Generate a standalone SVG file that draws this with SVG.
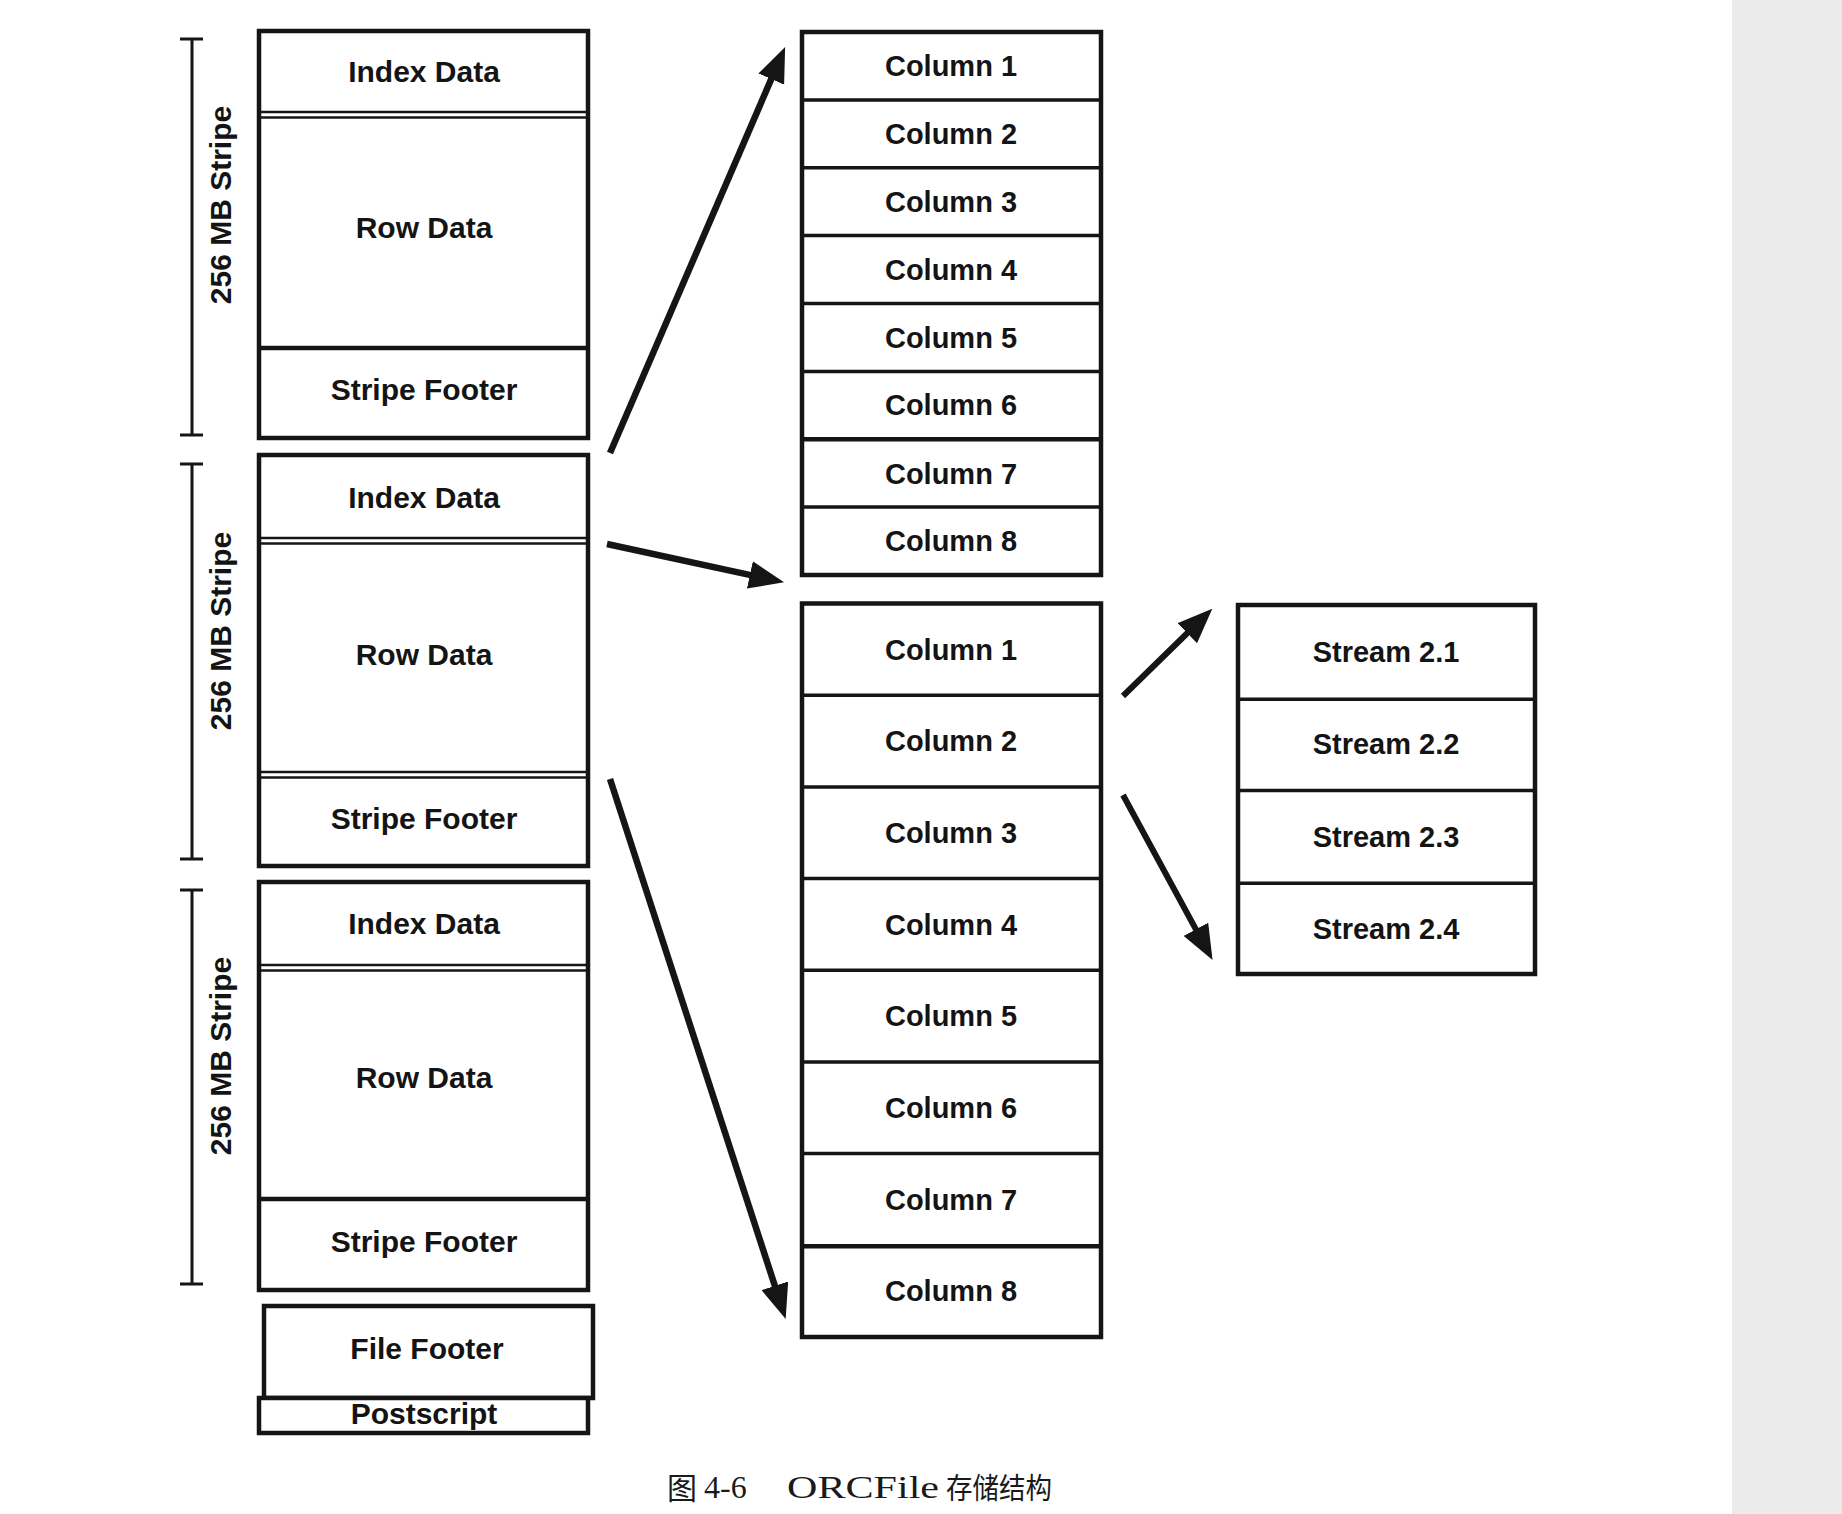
<svg xmlns="http://www.w3.org/2000/svg" width="1842" height="1514" viewBox="0 0 1842 1514">
<style>
  .box{fill:#fff;stroke:#151515;stroke-width:4.5}
  .div{stroke:#151515;stroke-width:3.5}
  .dbl{stroke:#151515;stroke-width:2.6}
  .thick{stroke:#151515;stroke-width:4.5}
  .lbl{font-family:"Liberation Sans",Arial,sans-serif;font-weight:bold;font-size:30px;fill:#141414;text-anchor:middle}
  .col{font-family:"Liberation Sans",Arial,sans-serif;font-weight:bold;font-size:29px;fill:#141414;text-anchor:middle}
  .brk{stroke:#151515;stroke-width:3;fill:none}
  .arrow{stroke:#151515;stroke-width:6.5;fill:none;marker-end:url(#ah)}
  .arrow2{stroke:#151515;stroke-width:6;fill:none;marker-end:url(#ah)}
</style>
<defs>
  <marker id="ah" markerUnits="userSpaceOnUse" markerWidth="36" markerHeight="28" refX="16" refY="14" orient="auto">
    <path d="M0,0 L35,14 L0,28 z" fill="#151515"/>
  </marker>
</defs>
<rect x="0" y="0" width="1842" height="1514" fill="#ffffff"/>
<rect x="1732" y="0" width="110" height="1514" fill="#ebebeb"/>

<!-- Stripe 1 -->
<g id="stripe1">
  <rect class="box" x="259" y="31" width="329" height="407"/>
  <line class="dbl" x1="259" y1="112" x2="588" y2="112"/>
  <line class="dbl" x1="259" y1="117.5" x2="588" y2="117.5"/>
  <line class="thick" x1="259" y1="348" x2="588" y2="348"/>
  <text class="lbl" x="424" y="82">Index Data</text>
  <text class="lbl" x="424" y="238">Row Data</text>
  <text class="lbl" x="424" y="400">Stripe Footer</text>
  <path class="brk" d="M180,39 H203 M192,39 V435 M180,435 H203"/>
  <text class="lbl" transform="translate(231,205) rotate(-90)">256 MB Stripe</text>
</g>

<!-- Stripe 2 -->
<g id="stripe2">
  <rect class="box" x="259" y="455" width="329" height="411"/>
  <line class="dbl" x1="259" y1="538" x2="588" y2="538"/>
  <line class="dbl" x1="259" y1="543.5" x2="588" y2="543.5"/>
  <line class="dbl" x1="259" y1="772" x2="588" y2="772"/>
  <line class="dbl" x1="259" y1="777.5" x2="588" y2="777.5"/>
  <text class="lbl" x="424" y="508">Index Data</text>
  <text class="lbl" x="424" y="665">Row Data</text>
  <text class="lbl" x="424" y="829">Stripe Footer</text>
  <path class="brk" d="M180,464 H203 M192,464 V859 M180,859 H203"/>
  <text class="lbl" transform="translate(231,631) rotate(-90)">256 MB Stripe</text>
</g>

<!-- Stripe 3 -->
<g id="stripe3">
  <rect class="box" x="259" y="882" width="329" height="408"/>
  <line class="dbl" x1="259" y1="965" x2="588" y2="965"/>
  <line class="dbl" x1="259" y1="970.5" x2="588" y2="970.5"/>
  <line class="thick" x1="259" y1="1199" x2="588" y2="1199"/>
  <text class="lbl" x="424" y="934">Index Data</text>
  <text class="lbl" x="424" y="1088">Row Data</text>
  <text class="lbl" x="424" y="1252">Stripe Footer</text>
  <path class="brk" d="M180,890 H203 M192,890 V1284 M180,1284 H203"/>
  <text class="lbl" transform="translate(231,1056) rotate(-90)">256 MB Stripe</text>
</g>

<!-- File footer / postscript -->
<g id="filefooter">
  <rect class="box" x="264" y="1306" width="329" height="92"/>
  <text class="lbl" x="427" y="1359">File Footer</text>
</g>
<g id="postscript">
  <rect class="box" x="259" y="1398" width="329" height="35"/>
  <text class="lbl" x="424" y="1424">Postscript</text>
</g>

<!-- Column group 1 -->
<g id="columns1">
  <rect class="box" x="802" y="32" width="299" height="543"/>
  <line class="div" x1="802" y1="99.9" x2="1101" y2="99.9"/>
  <line class="div" x1="802" y1="167.8" x2="1101" y2="167.8"/>
  <line class="div" x1="802" y1="235.6" x2="1101" y2="235.6"/>
  <line class="div" x1="802" y1="303.5" x2="1101" y2="303.5"/>
  <line class="div" x1="802" y1="371.4" x2="1101" y2="371.4"/>
  <line class="thick" x1="802" y1="439.3" x2="1101" y2="439.3"/>
  <line class="div" x1="802" y1="507.1" x2="1101" y2="507.1"/>
  <text class="col" x="951" y="76">Column 1</text>
  <text class="col" x="951" y="144">Column 2</text>
  <text class="col" x="951" y="212">Column 3</text>
  <text class="col" x="951" y="280">Column 4</text>
  <text class="col" x="951" y="348">Column 5</text>
  <text class="col" x="951" y="415">Column 6</text>
  <text class="col" x="951" y="484">Column 7</text>
  <text class="col" x="951" y="551">Column 8</text>
</g>

<!-- Column group 2 -->
<g id="columns2">
  <rect class="box" x="802" y="603.5" width="299" height="733.5"/>
  <line class="div" x1="802" y1="695.2" x2="1101" y2="695.2"/>
  <line class="div" x1="802" y1="786.9" x2="1101" y2="786.9"/>
  <line class="div" x1="802" y1="878.6" x2="1101" y2="878.6"/>
  <line class="div" x1="802" y1="970.3" x2="1101" y2="970.3"/>
  <line class="div" x1="802" y1="1061.9" x2="1101" y2="1061.9"/>
  <line class="div" x1="802" y1="1153.6" x2="1101" y2="1153.6"/>
  <line class="thick" x1="802" y1="1246.3" x2="1101" y2="1246.3"/>
  <text class="col" x="951" y="660">Column 1</text>
  <text class="col" x="951" y="751">Column 2</text>
  <text class="col" x="951" y="843">Column 3</text>
  <text class="col" x="951" y="935">Column 4</text>
  <text class="col" x="951" y="1026">Column 5</text>
  <text class="col" x="951" y="1118">Column 6</text>
  <text class="col" x="951" y="1210">Column 7</text>
  <text class="col" x="951" y="1301">Column 8</text>
</g>

<!-- Streams -->
<g id="streams">
  <rect class="box" x="1238" y="605" width="297" height="369"/>
  <line class="div" x1="1238" y1="699.3" x2="1535" y2="699.3"/>
  <line class="div" x1="1238" y1="790.5" x2="1535" y2="790.5"/>
  <line class="div" x1="1238" y1="883.3" x2="1535" y2="883.3"/>
  <text class="col" x="1386" y="662">Stream 2.1</text>
  <text class="col" x="1386" y="754">Stream 2.2</text>
  <text class="col" x="1386" y="847">Stream 2.3</text>
  <text class="col" x="1386" y="939">Stream 2.4</text>
</g>

<!-- Connectors -->
<g id="connectors">
  <line class="arrow" x1="610" y1="453" x2="777.6" y2="64.4"/>
  <line class="arrow" x1="607" y1="544" x2="765.5" y2="578.3"/>
  <line class="arrow" x1="610" y1="779" x2="779.8" y2="1301"/>
  <line class="arrow2" x1="1123" y1="696" x2="1198.7" y2="622"/>
  <line class="arrow2" x1="1123" y1="795" x2="1203.5" y2="943.4"/>
</g>

<!-- Caption -->
<g id="caption">
  <text x="667" y="1499" font-family="'Noto Sans CJK SC',sans-serif" font-size="30" fill="#1a1a1a">图</text>
  <text x="704" y="1498" font-family="'Liberation Serif','Times New Roman',serif" font-size="32" fill="#1a1a1a">4-6</text>
  <text x="787" y="1498" font-family="'Liberation Serif','Times New Roman',serif" font-size="32" fill="#1a1a1a" textLength="152" lengthAdjust="spacingAndGlyphs">ORCFile</text>
  <text x="946" y="1499" font-family="'Noto Sans CJK SC',sans-serif" font-size="29" fill="#1a1a1a" textLength="106" lengthAdjust="spacingAndGlyphs">存储结构</text>
</g>
</svg>
